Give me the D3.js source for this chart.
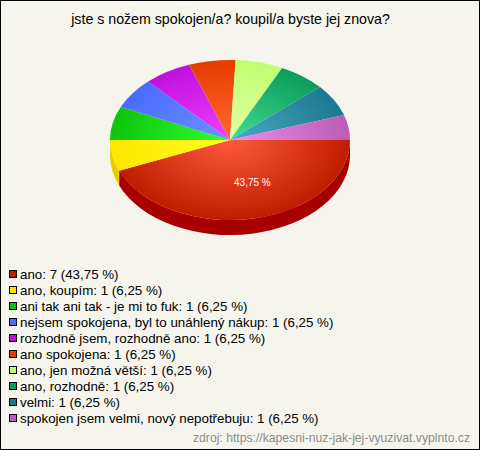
<!DOCTYPE html>
<html><head><meta charset="utf-8">
<script src="https://cdn.jsdelivr.net/npm/d3@7"></script>
<style>html,body{margin:0;padding:0;background:#f5f5ed}svg{display:block}text{font-family:"Liberation Sans",Arial,sans-serif}</style>
</head><body><svg id="c" width="480" height="450"></svg>
<script>
const title = "jste s nožem spokojen/a? koupil/a byste jej znova?";
const source = "zdroj: https://kapesni-nuz-jak-jej-vyuzivat.vyplnto.cz";
const categories = ["ano","ano, koupím","ani tak ani tak - je mi to fuk","nejsem spokojena, byl to unáhlený nákup","rozhodně jsem, rozhodně ano","ano spokojena","ano, jen možná větší","ano, rozhodně","velmi","spokojen jsem velmi, nový nepotřebuju"];
const counts = [7,1,1,1,1,1,1,1,1,1];
const percents = ["43,75","6,25","6,25","6,25","6,25","6,25","6,25","6,25","6,25","6,25"];
// slice spans in degrees as drawn in the picture
const sliceSpans = [157.5,22.5,24.4,22.6,23,22.7,23,22.9,23.2,18.2];
const edgeColors = ["#c01c00","#ffe600","#0cc40c","#4a6cff","#c010dd","#e63c00","#bfff70","#0c9c5c","#1a7890","#bb5cb8"];
const centerColors = ["#ff5a3c","#ffff22","#33ff33","#6c90ff","#f040ff","#ff6a30","#e4ffa4","#40dc94","#4eaac4","#ec8cec"];
const wallColors = ["#a80000","#e6cc00"];

const W=480,H=450,cx=230,cy=140,rx=120,ry=80,depth=15;
const svg=d3.select("#c");
svg.append("rect").attr("x",.5).attr("y",.5).attr("width",W-1).attr("height",H-1).attr("fill","#f5f5ed").attr("stroke","#000");
svg.append("text").attr("x",230.5).attr("y",24).attr("text-anchor","middle").attr("font-size",14.2).attr("fill","#000").text(title);

const idx=categories.map((d,i)=>i);
const edge=d3.scaleOrdinal(idx,edgeColors), center=d3.scaleOrdinal(idx,centerColors);
const pie=d3.pie().sort(null).value(i=>sliceSpans[i]).startAngle(Math.PI/2).endAngle(Math.PI/2+2*Math.PI);
const arcs=pie(idx);
const defs=svg.append("defs");
arcs.forEach(a=>{
  const g=defs.append("radialGradient").attr("id","g"+a.data).attr("gradientUnits","userSpaceOnUse").attr("cx",0).attr("cy",0).attr("r",1);
  g.append("stop").attr("offset",0).attr("stop-color",center(a.data));
  g.append("stop").attr("offset",1).attr("stop-color",edge(a.data));
});
const px=t=>cx+rx*Math.sin(t), py=t=>cy-ry*Math.cos(t);
const wall=d3.scaleOrdinal([0,1],wallColors);
arcs.filter(a=>a.startAngle<1.5*Math.PI).forEach(a=>{
  const e=Math.min(a.endAngle,1.5*Math.PI), s=a.startAngle;
  svg.append("path").attr("fill",wall(a.data))
   .attr("d",`M${px(s)},${py(s)}A${rx},${ry} 0 0 1 ${px(e)},${py(e)}L${px(e)},${py(e)+depth}A${rx},${ry} 0 0 0 ${px(s)},${py(s)+depth}Z`);
});
const arcGen=d3.arc().innerRadius(0).outerRadius(1);
const face=svg.append("g").attr("transform",`translate(${cx},${cy}) scale(${rx},${ry})`);
face.selectAll("path").data(arcs).join("path").attr("d",arcGen).attr("fill",a=>`url(#g${a.data})`);
const big=arcs[0], mid=(big.startAngle+big.endAngle)/2;
svg.append("text").attr("x",px(mid)-(px(mid)-cx)*.47+10).attr("y",cy+(py(mid)-cy)*.53+4).attr("text-anchor","middle").attr("font-size",10).attr("fill","#fff").text(percents[0]+" %");

const y=d3.scalePoint().domain(idx).range([274,418]);
const leg=svg.append("g").selectAll("g").data(idx).join("g");
leg.append("rect").attr("x",9.5).attr("y",i=>y(i)-3.5).attr("width",7).attr("height",7).attr("fill",i=>edge(i)).attr("stroke","#000");
leg.append("text").attr("x",20).attr("y",i=>y(i)+5).attr("font-size",13.33).attr("fill","#000")
  .text(i=>`${categories[i]}: ${counts[i]} (${percents[i]} %)`);
svg.append("text").attr("x",470).attr("y",442).attr("text-anchor","end").attr("font-size",12.2).attr("fill","#8c8c8c").text(source);
</script></body></html>
